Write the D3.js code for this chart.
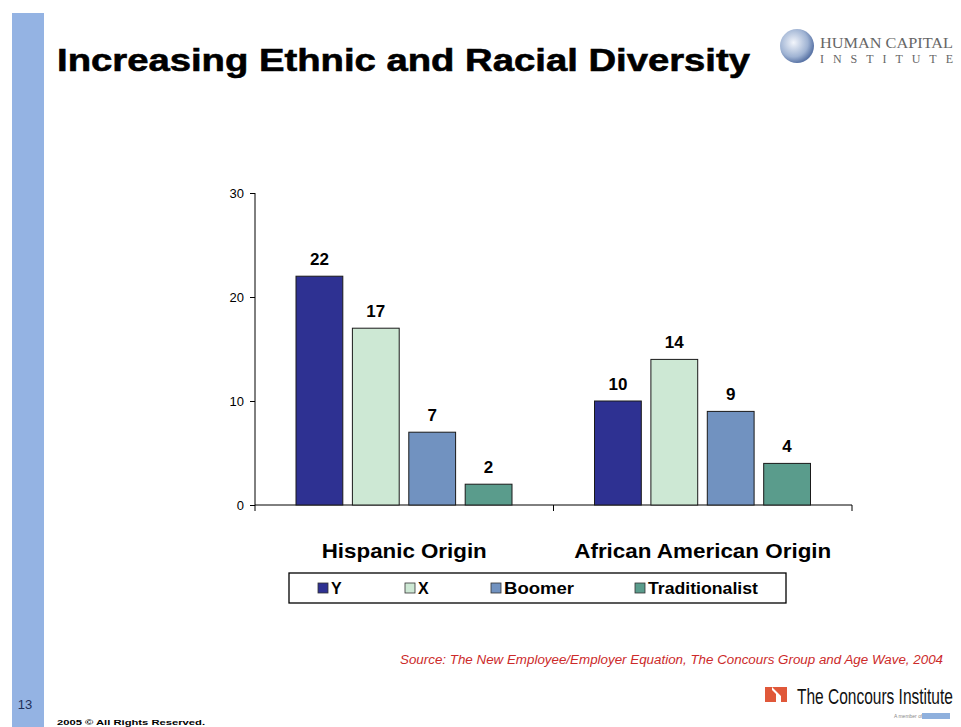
<!DOCTYPE html>
<html><head><meta charset="utf-8">
<script src="https://cdn.jsdelivr.net/npm/d3@7"></script>
<style>body{margin:0;background:#fff}svg{display:block}</style>
</head><body>
<svg id="c" width="961" height="727"></svg>
<script>
const categories = ["Hispanic Origin", "African American Origin"];
const seriesNames = ["Y", "X", "Boomer", "Traditionalist"];
const valuesY = [22, 10];
const valuesX = [17, 14];
const valuesBoomer = [7, 9];
const valuesTraditionalist = [2, 4];
const yTicks = [0, 10, 20, 30];
const colors = ["#2e3192", "#cde8d4", "#7192c0", "#5a9c8c"];

const seriesValues = [valuesY, valuesX, valuesBoomer, valuesTraditionalist];
const svg = d3.select("#c");

// left stripe
svg.append("rect").attr("x", 12).attr("y", 13).attr("width", 32).attr("height", 714).attr("fill", "#94b3e3");
svg.append("text").attr("x", 25).attr("y", 709).attr("text-anchor", "middle")
  .attr("font-family", "Liberation Sans, Arial, sans-serif").attr("font-size", 13).attr("fill", "#1f2f5a").text("13");

// title
svg.append("text").attr("x", 57).attr("y", 71)
  .attr("font-family", "Liberation Sans, Arial, sans-serif").attr("font-weight", "bold").attr("font-size", 32)
  .attr("textLength", 693).attr("lengthAdjust", "spacingAndGlyphs").attr("fill", "#000")
  .attr("stroke", "#000").attr("stroke-width", 0.6)
  .text("Increasing Ethnic and Racial Diversity");

// Human Capital logo
const grad = svg.append("defs").append("radialGradient").attr("id", "g1").attr("cx", "40%").attr("cy", "40%").attr("r", "60%");
grad.append("stop").attr("offset", "0%").attr("stop-color", "#f2f5fb");
grad.append("stop").attr("offset", "70%").attr("stop-color", "#9fb3d3");
grad.append("stop").attr("offset", "100%").attr("stop-color", "#5d77a8");
svg.append("circle").attr("cx", 797).attr("cy", 46).attr("r", 17).attr("fill", "url(#g1)");
svg.append("text").attr("x", 820).attr("y", 48).attr("font-family", "Liberation Serif, serif").attr("font-size", 15)
  .attr("fill", "#666").attr("textLength", 133).attr("lengthAdjust", "spacingAndGlyphs").text("HUMAN CAPITAL");
svg.append("text").attr("x", 820).attr("y", 63).attr("font-family", "Liberation Serif, serif").attr("font-size", 12)
  .attr("fill", "#666").attr("textLength", 133).attr("lengthAdjust", "spacing").text("INSTITUTE");

// chart
const yScale = d3.scaleLinear().domain([0, 30]).range([505, 193]);
const x0 = d3.scaleBand().domain(categories).range([255, 852]).padding(0);
const x1 = d3.scaleBand().domain(seriesNames).range([41, 257]).paddingInner(0.17);

const gy = svg.append("g").attr("transform", "translate(255,0)")
  .call(d3.axisLeft(yScale).tickValues(yTicks).tickSize(5).tickPadding(6).tickFormat(d3.format("d")));
gy.select(".domain").attr("stroke", "#000").attr("d", "M0,193V505");
gy.selectAll("text").attr("font-family", "Liberation Sans, Arial, sans-serif").attr("font-size", 13).attr("fill", "#000");

const gx = svg.append("g").attr("transform", "translate(0,505)");
gx.append("line").attr("x1", 255).attr("x2", 852).attr("stroke", "#000");
const bounds = [x0.range()[0]].concat(categories.map(c => x0(c) + x0.bandwidth()));
gx.selectAll("line.t").data(bounds).join("line").attr("class", "t")
  .attr("x1", d => d).attr("x2", d => d).attr("y1", 0).attr("y2", 6).attr("stroke", "#000");
gx.selectAll("text").data(categories).join("text")
  .attr("x", d => x0(d) + x0.bandwidth() / 2).attr("y", 53).attr("text-anchor", "middle")
  .attr("font-family", "Liberation Sans, Arial, sans-serif").attr("font-weight", "bold").attr("font-size", 21)
  .attr("textLength", (d, i) => i === 0 ? 165 : 257).attr("lengthAdjust", "spacingAndGlyphs")
  .text(d => d);

const groups = svg.selectAll("g.grp").data(categories).join("g").attr("class", "grp")
  .attr("transform", d => `translate(${x0(d)},0)`);
groups.each(function(cat, ci) {
  const g = d3.select(this);
  const data = seriesNames.map((s, si) => ({ s, si, v: seriesValues[si][ci] }));
  g.selectAll("rect").data(data).join("rect")
    .attr("x", d => x1(d.s)).attr("width", x1.bandwidth())
    .attr("y", d => yScale(d.v)).attr("height", d => yScale(0) - yScale(d.v))
    .attr("fill", d => colors[d.si]).attr("stroke", "#1a1a1a").attr("stroke-width", 1);
  g.selectAll("text").data(data).join("text")
    .attr("x", d => x1(d.s) + x1.bandwidth() / 2).attr("y", d => yScale(d.v) - 11)
    .attr("text-anchor", "middle").attr("font-family", "Liberation Sans, Arial, sans-serif")
    .attr("font-weight", "bold").attr("font-size", 17).attr("fill", "#000").text(d => d.v);
});

// legend
const legend = svg.append("g");
legend.append("rect").attr("x", 289).attr("y", 573).attr("width", 497).attr("height", 30)
  .attr("fill", "#fff").attr("stroke", "#000").attr("stroke-width", 1.3);
const legX = [318, 405, 491, 635];
const li = legend.selectAll("g").data(seriesNames).join("g").attr("transform", (d, i) => `translate(${legX[i]},588)`);
li.append("rect").attr("x", 0).attr("y", -5).attr("width", 10).attr("height", 10)
  .attr("fill", (d, i) => colors[i]).attr("stroke", "#333").attr("stroke-width", 0.8);
li.append("text").attr("x", 13).attr("y", 6).attr("font-family", "Liberation Sans, Arial, sans-serif")
  .attr("font-weight", "bold").attr("font-size", 16)
  .attr("textLength", d => d === "Traditionalist" ? 110 : (d === "Boomer" ? 70 : null))
  .attr("lengthAdjust", "spacingAndGlyphs").text(d => d);

// source
svg.append("text").attr("x", 400).attr("y", 664).attr("font-family", "Liberation Sans, Arial, sans-serif")
  .attr("font-style", "italic").attr("font-size", 12).attr("fill", "#cc2a2a")
  .attr("textLength", 543).attr("lengthAdjust", "spacingAndGlyphs")
  .text("Source:  The New Employee/Employer Equation, The Concours Group and Age Wave, 2004");

// Concours logo
svg.append("path").attr("d", "M765,687H787V702H765Z").attr("fill", "#e0583a");
svg.append("path").attr("d", "M772,687L781,696L781,702L776,702L776,694L772,690Z").attr("fill", "#fff");
const ct = svg.append("text")
  .attr("font-family", "Liberation Sans, Arial, sans-serif")
  .attr("font-size", 22).attr("fill", "#111")
  .text("The Concours Institute");
const natural = ct.node().getComputedTextLength();
ct.attr("transform", `translate(797,704) scale(${156 / natural},1)`);
svg.append("text").attr("x", 894).attr("y", 718).attr("font-family", "Liberation Sans, Arial, sans-serif")
  .attr("font-size", 5).attr("fill", "#888").text("A member of");
svg.append("rect").attr("x", 922).attr("y", 713).attr("width", 28).attr("height", 6).attr("fill", "#8fb0dd");

// footer
svg.append("text").attr("x", 57).attr("y", 725).attr("font-family", "Liberation Sans, Arial, sans-serif")
  .attr("font-weight", "bold").attr("font-size", 8).attr("fill", "#000")
  .attr("textLength", 148).attr("lengthAdjust", "spacingAndGlyphs").text("2005 © All Rights Reserved.");
</script>
</body></html>
